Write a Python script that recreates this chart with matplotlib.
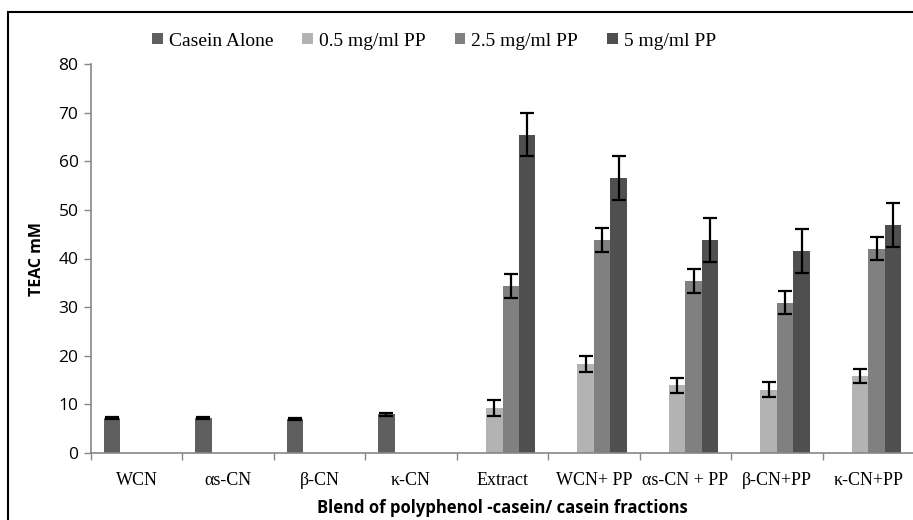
import numpy as np
import matplotlib
matplotlib.use("Agg")
import matplotlib.pyplot as plt
from matplotlib.patches import Rectangle

# categorias del eje x
categorias = ["WCN", "αs-CN", "β-CN", "κ-CN", "Extract",
              "WCN+ PP", "αs-CN + PP", "β-CN+PP", "κ-CN+PP"]

series = ["Casein Alone", "0.5 mg/ml PP", "2.5 mg/ml PP", "5 mg/ml PP"]

# valores TEAC (mM), 0 = sin barra
casein_alone = [7.2, 7.2, 7.0, 8.0, 0, 0, 0, 0, 0]
pp_05 = [0, 0, 0, 0, 9.2, 18.3, 13.9, 13.0, 15.8]
pp_25 = [0, 0, 0, 0, 34.4, 43.8, 35.4, 30.9, 42.0]
pp_5 = [0, 0, 0, 0, 65.5, 56.6, 43.8, 41.6, 46.9]

# desviaciones
err_casein = [0.3, 0.3, 0.3, 0.3, 0, 0, 0, 0, 0]
err_05 = [0, 0, 0, 0, 1.6, 1.6, 1.6, 1.5, 1.5]
err_25 = [0, 0, 0, 0, 2.5, 2.4, 2.4, 2.4, 2.4]
err_5 = [0, 0, 0, 0, 4.4, 4.5, 4.6, 4.5, 4.5]

colores = ["#5f5f5f", "#b3b3b3", "#808080", "#4f4f4f"]

valores = [casein_alone, pp_05, pp_25, pp_5]
errores = [err_casein, err_05, err_25, err_5]

fig = plt.figure(figsize=(9.13, 5.2), dpi=100)
W, H = 913, 520
ax = fig.add_axes([91 / W, (H - 453) / H, 823 / W, 389 / H])

# marco exterior
fig.patches.append(Rectangle((8 / W, -0.1), 1.2, (H - 12) / H + 0.1,
                             transform=fig.transFigure, fill=False,
                             edgecolor="black", linewidth=1.5))

x = np.arange(len(categorias))
ancho = 0.18
for i in range(4):
    pos = x + (i - 1.5) * ancho
    vals = np.array(valores[i])
    errs = np.array(errores[i])
    mask = vals > 0
    ax.bar(pos[mask], vals[mask], width=ancho, color=colores[i],
           label=series[i], zorder=2)
    ax.errorbar(pos[mask], vals[mask], yerr=errs[mask], fmt="none",
                ecolor="black", elinewidth=1.6, capsize=5, capthick=1.6,
                zorder=3)

ax.set_xlim(-0.5, len(categorias) - 0.5)
ax.set_ylim(0, 80)
ax.set_yticks(range(0, 81, 10))

# ticks de categoria entre grupos, etiquetas centradas
ax.set_xticks(np.arange(-0.5, len(categorias), 1.0))
ax.set_xticklabels([])
ax.set_xticks(x, minor=True)
ax.set_xticklabels(categorias, minor=True, fontfamily="Liberation Serif",
                   fontsize=13)
ax.tick_params(axis="x", which="major", length=5, color="#868686", width=1)
ax.tick_params(axis="x", which="minor", length=0, pad=14)
ax.tick_params(axis="y", length=5, color="#868686", width=1, pad=4,
               labelsize=12.5)
for t in ax.get_yticklabels():
    t.set_fontfamily("Open Sans")

for s in ["top", "right"]:
    ax.spines[s].set_visible(False)
for s in ["left", "bottom"]:
    ax.spines[s].set_color("#868686")
    ax.spines[s].set_linewidth(1.2)

ax.set_ylabel("TEAC mM", fontfamily="Open Sans", fontweight="bold",
              fontsize=11.5, labelpad=10)
ax.set_xlabel("Blend of polyphenol -casein/ casein fractions",
              fontfamily="Open Sans", fontweight="bold", fontsize=12,
              labelpad=7)

ax.legend(loc="center", bbox_to_anchor=(434 / W, (H - 41) / H),
          bbox_transform=fig.transFigure, ncol=4, frameon=False,
          prop={"family": "Liberation Serif", "size": 14},
          handlelength=0.55, handleheight=0.55, handletextpad=0.3,
          columnspacing=1.5)

plt.savefig("out.png", dpi=100)
